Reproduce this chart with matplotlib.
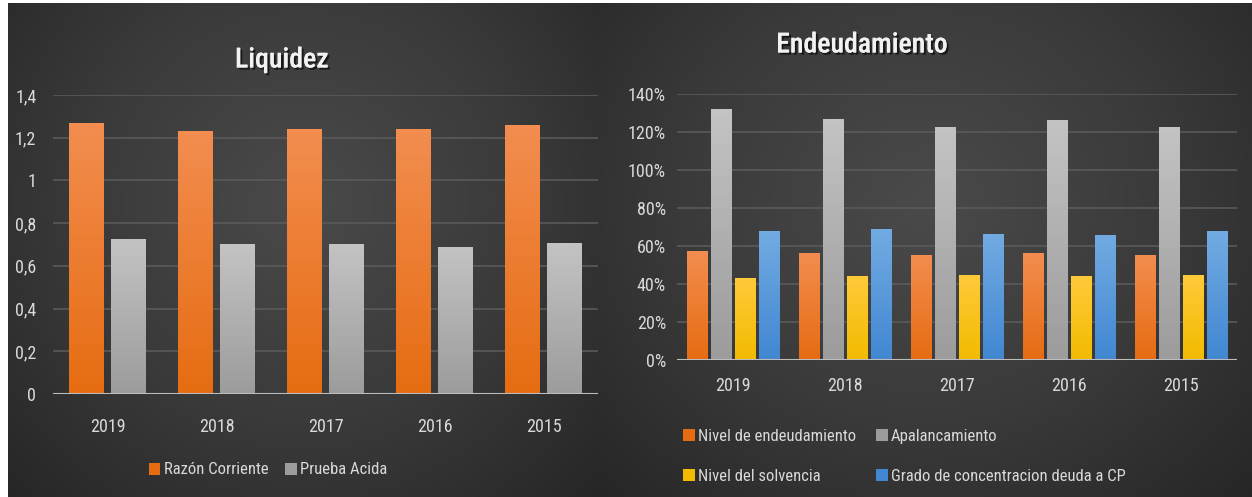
import numpy as np
import matplotlib.pyplot as plt
import matplotlib.patheffects as pe
from matplotlib import font_manager
from matplotlib.patches import Patch
from matplotlib.colors import LinearSegmentedColormap

# narrow face if one is installed, else the regular one
names = {f.name for f in font_manager.fontManager.ttflist}
narrow = [n for n in ['Roboto Condensed', 'Open Sans Condensed', 'Liberation Sans Narrow',
                      'DejaVu Sans Condensed'] if n in names]
plt.rcParams['font.family'] = narrow + ['DejaVu Sans']
plt.rcParams['font.stretch'] = 'condensed'

# Liquidez
years = ['2019', '2018', '2017', '2016', '2015']
razon_corriente = [1.27, 1.23, 1.24, 1.24, 1.26]
prueba_acida = [0.724, 0.701, 0.70, 0.69, 0.705]

# Endeudamiento (fracciones)
nivel_endeudamiento = [0.572, 0.561, 0.554, 0.561, 0.554]
apalancamiento = [1.319, 1.267, 1.224, 1.261, 1.224]
nivel_solvencia = [0.432, 0.444, 0.449, 0.441, 0.449]
grado_concentracion = [0.677, 0.689, 0.665, 0.658, 0.681]

liq_ticks = [0, 0.2, 0.4, 0.6, 0.8, 1.0, 1.2, 1.4]
liq_ticklabels = ['0', '0,2', '0,4', '0,6', '0,8', '1', '1,2', '1,4']
end_ticks = [0, 0.2, 0.4, 0.6, 0.8, 1.0, 1.2, 1.4]
end_ticklabels = ['0%', '20%', '40%', '60%', '80%', '100%', '120%', '140%']

ORANGE = ('#f28d4f', '#e66c12')
GRAY = ('#c3c3c3', '#9c9c9c')
YELLOW = ('#ffca3a', '#f2bb00')
BLUE = ('#72abe2', '#4187d2')
TXT = '#d9d9d9'
FS = 12 if narrow else 10

W, H = 1252, 497
fig = plt.figure(figsize=(W / 100, H / 100), dpi=100)
fig.patch.set_facecolor('white')


def px(x0, y0, x1, y1):
    # pixel box (top-left origin) -> figure fraction rect
    return [x0 / W, 1 - y1 / H, (x1 - x0) / W, (y1 - y0) / H]


def panel_bg(rect, cx=0.5, cy=0.55):
    ax = fig.add_axes(rect, zorder=0)
    yy, xx = np.mgrid[0:1:300j, 0:1:500j]
    r = np.sqrt(((xx - cx) / 0.75) ** 2 + ((yy - cy) / 0.9) ** 2)
    cmap = LinearSegmentedColormap.from_list('bg', ['#4a4a4a', '#3a3a3a', '#242424'])
    ax.imshow(np.clip(r, 0, 1), cmap=cmap, aspect='auto', extent=[0, 1, 0, 1],
              vmin=0, vmax=1, origin='lower')
    ax.set_axis_off()


def gradient_bars(ax, x, heights, width, colors):
    bars = ax.bar(x, heights, width, color=colors[1], zorder=3)
    cmap = LinearSegmentedColormap.from_list('bar', [colors[1], colors[0]])
    grad = np.linspace(0, 1, 64).reshape(-1, 1)
    for b in bars:
        x0, w, h = b.get_x(), b.get_width(), b.get_height()
        im = ax.imshow(grad, cmap=cmap, aspect='auto', origin='lower',
                       extent=[x0, x0 + w, 0, h], zorder=4)
        im.set_clip_path(b)
    return bars


def style_axes(ax, ticks, labels, ymax, xpad):
    ax.set_facecolor('none')
    ax.set_ylim(0, ymax)
    ax.set_xlim(-0.5, len(years) - 0.5)
    ax.set_yticks(ticks)
    ax.set_yticklabels(labels)
    ax.set_xticks(range(len(years)))
    ax.set_xticklabels(years)
    ax.tick_params(colors=TXT, labelsize=FS + 1, length=0)
    ax.tick_params(axis='y', pad=14)
    ax.tick_params(axis='x', pad=xpad)
    for s in ax.spines.values():
        s.set_visible(False)
    ax.grid(axis='y', color='#5a5a5a', linewidth=1.2, zorder=0)
    ax.axhline(0, color='#bdbdbd', linewidth=1.5, zorder=5)
    ax.set_axisbelow(True)


shadow = [pe.withSimplePatchShadow(offset=(1.5, -1.5), shadow_rgbFace='black', alpha=0.6), pe.Normal()]

# --- Liquidez ---
panel_bg(px(8, 3, 598, 497), cy=0.6)
ax1 = fig.add_axes(px(53, 95, 598, 394), zorder=1)
x = np.arange(len(years))
gradient_bars(ax1, x - 0.193, razon_corriente, 0.32, ORANGE)
gradient_bars(ax1, x + 0.193, prueba_acida, 0.32, GRAY)
style_axes(ax1, liq_ticks, liq_ticklabels, 1.4, 17)
ax1.tick_params(axis='y', pad=12)
fig.text(282 / W, 1 - 60 / H, 'Liquidez', ha='center', va='center', color='#f2f2f2',
         fontsize=FS + 8, fontweight='medium', path_effects=shadow)
ax1.legend(handles=[Patch(facecolor=ORANGE[1], label='Razón Corriente'),
                    Patch(facecolor=GRAY[1], label='Prueba Acida')],
           loc='center', bbox_to_anchor=(268 / W, 1 - 470 / H), bbox_transform=fig.transFigure,
           ncol=2, frameon=False, labelcolor=TXT, fontsize=FS, handlelength=0.7,
           handleheight=0.7, handletextpad=0.2, columnspacing=1.0)

# --- Endeudamiento ---
panel_bg(px(598, 3, 1252, 497), cy=0.6)
ax2 = fig.add_axes(px(677, 94, 1237, 360), zorder=1)
off = 0.215
gradient_bars(ax2, x - 1.5 * off, nivel_endeudamiento, 0.18, ORANGE)
gradient_bars(ax2, x - 0.5 * off, apalancamiento, 0.18, GRAY)
gradient_bars(ax2, x + 0.5 * off, nivel_solvencia, 0.18, YELLOW)
gradient_bars(ax2, x + 1.5 * off, grado_concentracion, 0.18, BLUE)
style_axes(ax2, end_ticks, end_ticklabels, 1.4, 12)
ax2.tick_params(axis='y', pad=8)
fig.text(862 / W, 1 - 45 / H, 'Endeudamiento', ha='center', va='center', color='#f2f2f2',
         fontsize=FS + 8, fontweight='medium', path_effects=shadow)
ax2.legend(handles=[Patch(facecolor=ORANGE[1], label='Nivel de endeudamiento'),
                    Patch(facecolor=YELLOW[1], label='Nivel del solvencia'),
                    Patch(facecolor=GRAY[1], label='Apalancamiento'),
                    Patch(facecolor=BLUE[1], label='Grado de concentracion deuda a CP')],
           loc='upper left', bbox_to_anchor=(668 / W, 1 - 414 / H), bbox_transform=fig.transFigure,
           ncol=2, frameon=False, labelcolor=TXT, fontsize=FS, handlelength=0.7,
           handleheight=0.7, handletextpad=0.2, columnspacing=1.2 if narrow else 1.0,
           labelspacing=1.5)

fig.savefig('out.png', dpi=100, facecolor=fig.get_facecolor())
